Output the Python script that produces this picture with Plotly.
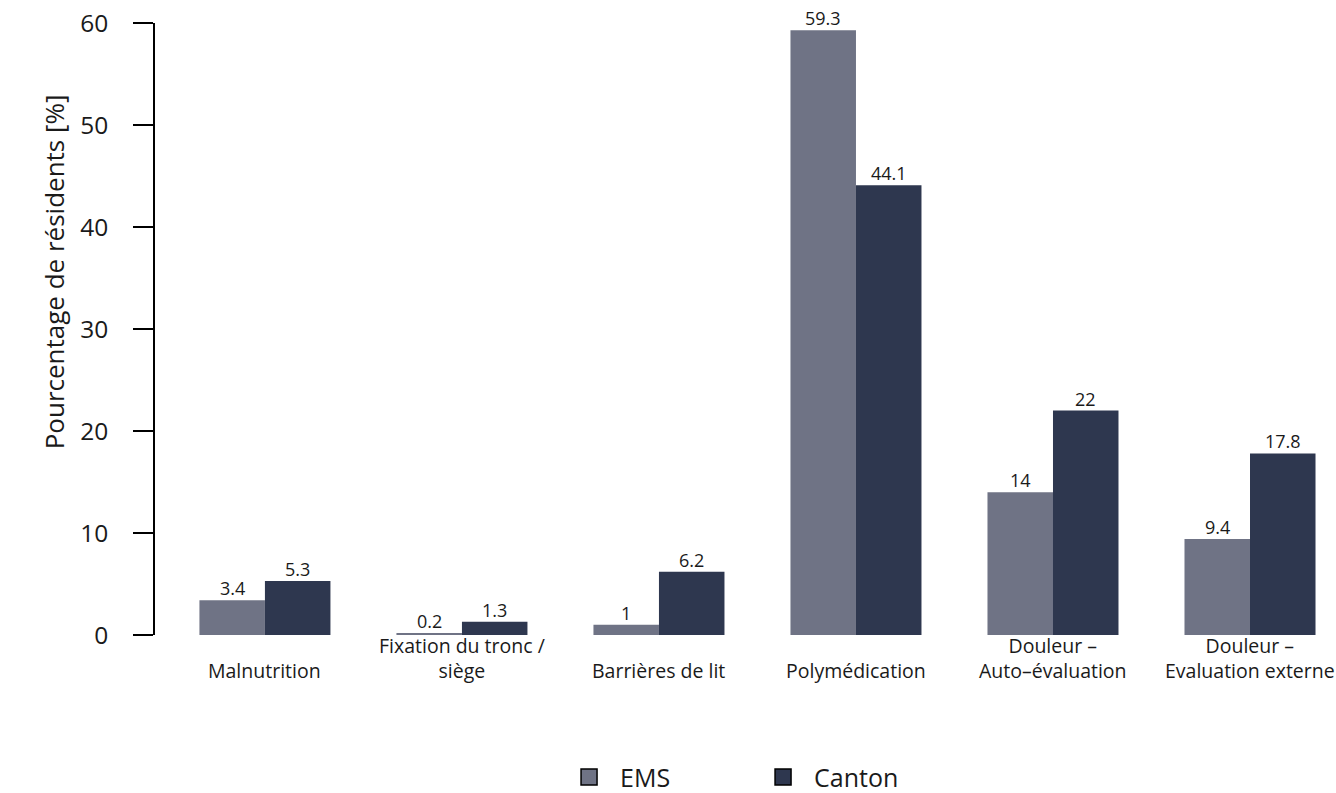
import plotly.graph_objects as go

categories = ["Malnutrition", "Fixation du tronc /<br>siège", "Barrières de lit",
              "Polymédication", "Douleur –<br>Auto–évaluation", "Douleur –<br>Evaluation externe"]
ems = [3.4, 0.2, 1, 59.3, 14, 9.4]
canton = [5.3, 1.3, 6.2, 44.1, 22, 17.8]
y_ticks = [0, 10, 20, 30, 40, 50, 60]

c_ems = "rgb(111,115,133)"
c_canton = "rgb(46,55,79)"
font = "Open Sans"
txt = "#1a1a1a"
bargap = 0.335

idx = list(range(len(categories)))
half = (1 - bargap) / 4  # centre offset of each bar within its group

fig = go.Figure()
for k, (name, vals, col) in enumerate([("EMS", ems, c_ems), ("Canton", canton, c_canton)]):
    fig.add_trace(go.Bar(
        x=idx, y=vals, name=name, marker=dict(color=col, line=dict(width=0)),
        cliponaxis=False, showlegend=False, hoverinfo="skip",
    ))
    fig.add_trace(go.Scatter(
        x=[None], y=[None], mode="markers", name=name,
        marker=dict(symbol="square", size=17, color=col, line=dict(color="black", width=1.5)),
    ))
    sign = -1 if k == 0 else 1
    for i, v in zip(idx, vals):
        fig.add_annotation(x=i + sign * half, xref="x", y=v, yref="y", text=f"{v:g}",
                           showarrow=False, yanchor="bottom", yshift=-1, borderpad=0,
                           font=dict(size=18, family=font, color=txt))

for i, c in enumerate(categories):
    fig.add_annotation(x=i, xref="x", y=0, yref="paper", text=c, showarrow=False,
                       yanchor="bottom", yshift=-50, borderpad=0,
                       font=dict(size=19.5, family=font, color=txt))

fig.add_annotation(x=-0.104, xref="paper", y=0.593, yref="paper", text="Pourcentage de résidents [%]",
                   textangle=-90, showarrow=False, font=dict(size=26, family=font, color=txt))

fig.update_layout(
    template="none",
    width=1336, height=793,
    margin=dict(l=155, r=20, t=23, b=158, autoexpand=False),
    plot_bgcolor="white", paper_bgcolor="white",
    barmode="group", bargap=bargap, bargroupgap=0,
    font=dict(family=font, color=txt),
    legend=dict(orientation="h", xref="container", yref="container",
                x=0.4177, xanchor="left", y=0.02, yanchor="middle",
                font=dict(size=25, family=font, color=txt), entrywidth=127, entrywidthmode="pixels",
                itemwidth=52, bgcolor="rgba(0,0,0,0)"),
)
fig.update_xaxes(range=[-0.558, 5.335], showticklabels=False, showgrid=False, zeroline=False,
                 showline=False, ticks="", automargin=False)
fig.update_yaxes(range=[0, 60], tickvals=y_ticks, showgrid=False, zeroline=False, automargin=False,
                 showline=True, linecolor="black", linewidth=1.5, ticks="outside", ticklen=20,
                 tickwidth=1.5, tickcolor="black", ticklabelstandoff=20,
                 tickfont=dict(size=24.5, family=font, color=txt))

fig.write_html("out.html", config={"displayModeBar": False},
               post_script="document.body.style.margin='0';document.body.style.overflow='hidden';")
